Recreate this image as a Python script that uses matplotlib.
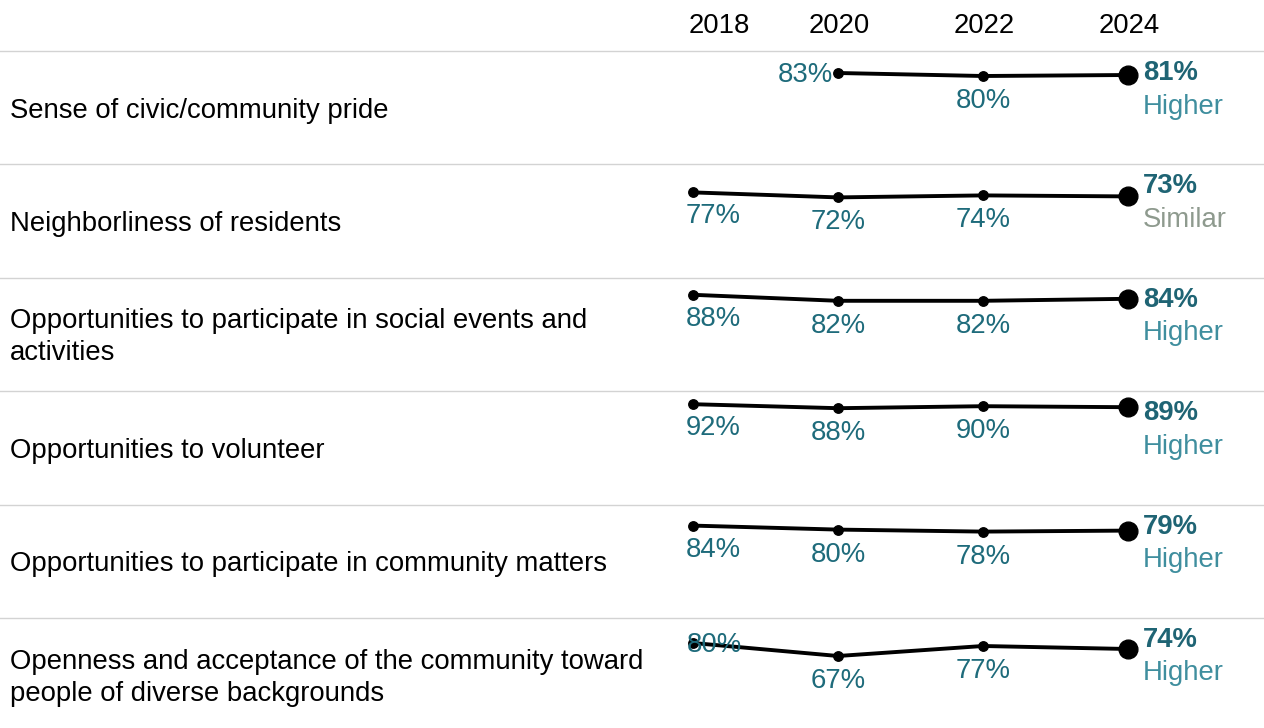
import numpy as np
import matplotlib.pyplot as plt

plt.rcParams['font.family'] = ['Liberation Sans', 'DejaVu Sans']

items = [
    'Sense of civic/community pride',
    'Neighborliness of residents',
    'Opportunities to participate in social events and\nactivities',
    'Opportunities to volunteer',
    'Opportunities to participate in community matters',
    'Openness and acceptance of the community toward\npeople of diverse backgrounds',
]
years = [2018, 2020, 2022, 2024]
v2018 = [np.nan, 77, 88, 92, 84, 80]
v2020 = [83, 72, 82, 88, 80, 67]
v2022 = [80, 74, 82, 90, 78, 77]
v2024 = [81, 73, 84, 89, 79, 74]
comparison = ['Higher', 'Similar', 'Higher', 'Higher', 'Higher', 'Higher']

W, H = 1264, 728
fs = 19.8
label_col = '#1e6b7b'
bold_col = '#1f6474'
cmp_col = {'Higher': '#3f8e9e', 'Similar': '#8e9a8e'}

fig = plt.figure(figsize=(W / 100, H / 100), dpi=100)

top0 = 51
row_h = 113.4
xlim = (2018 - 693 / 72.5, 2018 + (W - 693) / 72.5)

def fy(px):
    return 1 - px / H

# header years
hdr = fig.add_axes([0, fy(top0), 1, top0 / H])
hdr.set_xlim(xlim)
hdr.set_ylim(0, 1)
hdr.axis('off')
for yr in years:
    if yr == years[0]:
        hdr.annotate(str(yr), (yr, 0.52), xytext=(-4, -2), textcoords='offset pixels',
                     ha='left', va='center', fontsize=fs)
    else:
        hdr.annotate(str(yr), (yr, 0.52), xytext=(1, -2), textcoords='offset pixels',
                     ha='center', va='center', fontsize=fs)

for i, name in enumerate(items):
    top = top0 + i * row_h
    ax = fig.add_axes([0, fy(top + row_h), 1, row_h / H])
    ax.set_xlim(xlim)
    ax.set_ylim(105 - row_h, 105)
    ax.axis('off')

    vals = np.array([v2018[i], v2020[i], v2022[i], v2024[i]], dtype=float)
    ok = ~np.isnan(vals)
    xs = np.array(years)[ok]
    ys = vals[ok]
    ax.plot(xs, ys, color='black', lw=2.8, solid_capstyle='round', zorder=2)
    ax.plot(xs[:-1], ys[:-1], 'o', color='black', ms=6.8, zorder=3)
    ax.plot(xs[-1], ys[-1], 'o', color='black', ms=13.5, zorder=3)

    # point labels (all but last year)
    for j, (x, y) in enumerate(zip(xs[:-1], ys[:-1])):
        txt = f'{int(y)}%'
        if j == 0 and i == 0:
            ax.annotate(txt, (x, y), xytext=(-5, -2), textcoords='offset pixels',
                        ha='right', va='center', fontsize=fs, color=label_col)
        elif j == 0 and i == len(items) - 1:
            ax.annotate(txt, (x, y), xytext=(-6, -2), textcoords='offset pixels',
                        ha='left', va='center', fontsize=fs, color=label_col)
        elif x == years[0]:
            ax.annotate(txt, (x, y), xytext=(-7, -24), textcoords='offset pixels',
                        ha='left', va='center', fontsize=fs, color=label_col)
        else:
            ax.annotate(txt, (x, y), xytext=(0, -25), textcoords='offset pixels',
                        ha='center', va='center', fontsize=fs, color=label_col)

    # latest value + comparison
    fig.text(1143 / W, fy(top + 22), f'{int(vals[-1])}%', ha='left', va='center',
             fontsize=fs, fontweight='bold', color=bold_col)
    fig.text(1143 / W, fy(top + 55.5), comparison[i], ha='left', va='center',
             fontsize=fs, color=cmp_col[comparison[i]])

    # row label
    fig.text(10 / W, fy(top + row_h / 2 + 3), name, ha='left', va='center',
             fontsize=fs, linespacing=1.3, color='black')

    # separator
    fig.add_artist(plt.Line2D([0, 1], [fy(top), fy(top)], color='#d3d3d3', lw=1))

fig.savefig('out.png', dpi=100, facecolor='white')
